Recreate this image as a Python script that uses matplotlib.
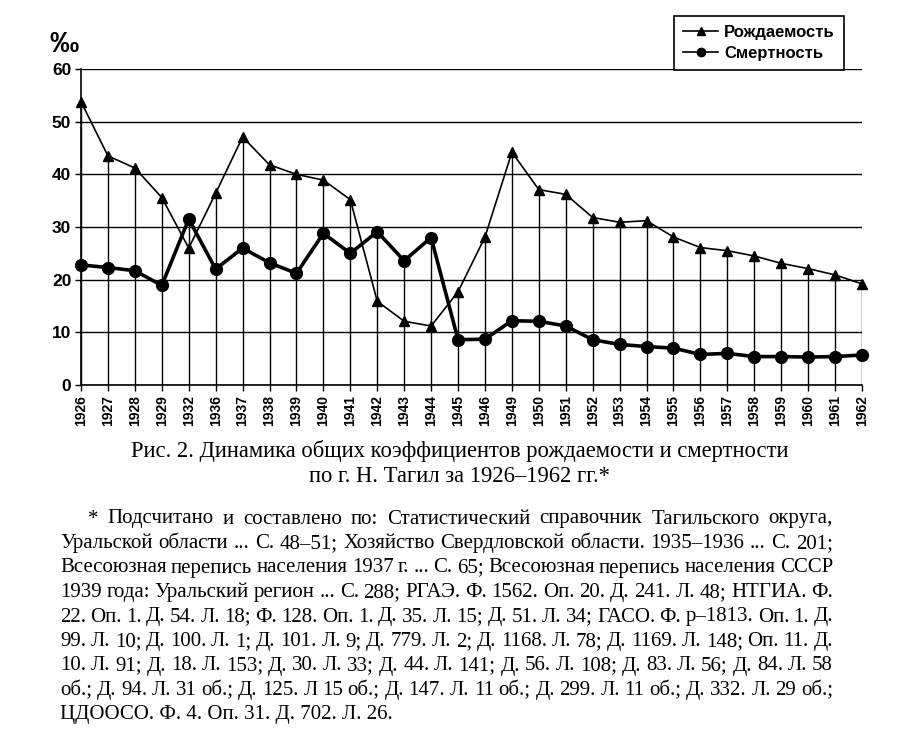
import matplotlib
matplotlib.use("Agg")
import matplotlib.pyplot as plt
import numpy as np

years = ["1926", "1927", "1928", "1929", "1932", "1936", "1937", "1938", "1939",
         "1940", "1941", "1942", "1943", "1944", "1945", "1946", "1949", "1950",
         "1951", "1952", "1953", "1954", "1955", "1956", "1957", "1958", "1959",
         "1960", "1961", "1962"]
birth = [53.8, 43.5, 41.2, 35.6, 26.0, 36.4, 47.1, 41.8, 40.0, 38.9, 35.2, 15.9,
         12.1, 11.2, 17.7, 28.1, 44.2, 37.1, 36.2, 31.8, 30.9, 31.2, 28.1, 26.1,
         25.5, 24.5, 23.1, 22.1, 20.9, 19.2]
death = [22.8, 22.3, 21.7, 18.9, 31.5, 22.0, 26.0, 23.2, 21.2, 28.8, 25.0, 29.1,
         23.6, 28.0, 8.6, 8.7, 12.2, 12.1, 11.2, 8.6, 7.7, 7.3, 7.0, 5.8, 6.0,
         5.4, 5.4, 5.3, 5.4, 5.7]

legend_labels = ["Рождаемость", "Смертность"]
caption = ["Рис. 2. Динамика общих коэффициентов рождаемости и смертности",
           "по г. Н. Тагил за 1926–1962 гг.*"]
footnote = [
    "* Подсчитано и составлено по: Статистический справочник Тагильского округа,",
    "Уральской области ... С. 48–51; Хозяйство Свердловской области. 1935–1936 ... С. 201;",
    "Всесоюзная перепись населения 1937 г. ... С. 65; Всесоюзная перепись населения СССР",
    "1939 года: Уральский регион ... С. 288; РГАЭ. Ф. 1562. Оп. 20. Д. 241. Л. 48; НТГИА. Ф.",
    "22. Оп. 1. Д. 54. Л. 18; Ф. 128. Оп. 1. Д. 35. Л. 15; Д. 51. Л. 34; ГАСО. Ф. р–1813. Оп. 1. Д.",
    "99. Л. 10; Д. 100. Л. 1; Д. 101. Л. 9; Д. 779. Л. 2; Д. 1168. Л. 78; Д. 1169. Л. 148; Оп. 11. Д.",
    "10. Л. 91; Д. 18. Л. 153; Д. 30. Л. 33; Д. 44. Л. 141; Д. 56. Л. 108; Д. 83. Л. 56; Д. 84. Л. 58",
    "об.; Д. 94. Л. 31 об.; Д. 125. Л 15 об.; Д. 147. Л. 11 об.; Д. 299. Л. 11 об.; Д. 332. Л. 29 об.;",
    "ЦДООСО. Ф. 4. Оп. 31. Д. 702. Л. 26.",
]

W, H = 900, 743
fig = plt.figure(figsize=(W / 100, H / 100), dpi=100)
ax = fig.add_axes([81 / W, 1 - 385 / H, 781 / W, 316 / H])

sans = "Liberation Sans"
serif = "Liberation Serif"

x = np.arange(len(years))
# drop lines from the higher of the two points down to the axis
ax.vlines(x, 0, np.maximum(birth, death), color="black", lw=1, zorder=2)
ax.plot(x, birth, color="black", lw=1.2, marker="^", ms=7.5,
        label=legend_labels[0], clip_on=False, zorder=3)
ax.plot(x, death, color="black", lw=2.6, marker="o", ms=8.5,
        label=legend_labels[1], clip_on=False, zorder=4)

ax.set_xlim(0, len(years) - 1)
ax.set_ylim(0, 60)
ax.set_yticks(range(0, 61, 10))
ax.yaxis.grid(True, color="black", lw=1)
ax.set_axisbelow(True)
for s in ["top", "right"]:
    ax.spines[s].set_visible(False)
ax.spines["left"].set_linewidth(1.2)
ax.spines["bottom"].set_linewidth(1.2)
ax.set_xticks(x)
ax.set_xticklabels(years, rotation=90, fontsize=10, fontweight="bold", family=sans)
for lab in ax.get_yticklabels():
    lab.set_fontsize(12.5)
    lab.set_fontweight("bold")
    lab.set_family(sans)
ax.tick_params(axis="both", length=4, width=1, color="black", pad=3)

fig.text(49 / W, 1 - 44 / H, "‰", fontsize=21, fontweight="bold", family=sans,
         va="center", ha="left")

leg = ax.legend(loc="lower left", bbox_to_anchor=(674 / W, 1 - 70 / H),
                bbox_transform=fig.transFigure, frameon=True, fancybox=False,
                edgecolor="black", framealpha=1, handlelength=2.1,
                handletextpad=0.35, borderpad=0.55, labelspacing=0.35,
                borderaxespad=0,
                prop={"family": sans, "weight": "bold", "size": 12})
leg.get_frame().set_linewidth(1.2)
for h in leg.get_lines():
    h.set_linewidth(1.2)
    h.set_markersize(6)

# caption
fig.text(460 / W, 1 - 451 / H, caption[0], fontsize=16.3, family=serif,
         ha="center", va="center")
fig.text(460 / W, 1 - 476 / H, caption[1], fontsize=16.3, family=serif,
         ha="center", va="center")

# justified footnote
renderer = fig.canvas.get_renderer()
left, right = 60, 833
fs = 15
for i, line in enumerate(footnote):
    y = 1 - (519 + i * 24.5) / H
    x0 = 88 if i == 0 else left
    words = line.split(" ")
    if i == len(footnote) - 1:
        fig.text(x0 / W, y, line, fontsize=fs, family=serif, va="center", ha="left")
        continue
    texts = [fig.text(0, y, w, fontsize=fs, family=serif, va="center", ha="left")
             for w in words]
    widths = [t.get_window_extent(renderer).width for t in texts]
    gap = max((right - x0 - sum(widths)) / (len(words) - 1), 2)
    pos = x0
    for t, wd in zip(texts, widths):
        t.set_x(pos / W)
        pos += wd + gap

fig.savefig("out.png", dpi=100)
